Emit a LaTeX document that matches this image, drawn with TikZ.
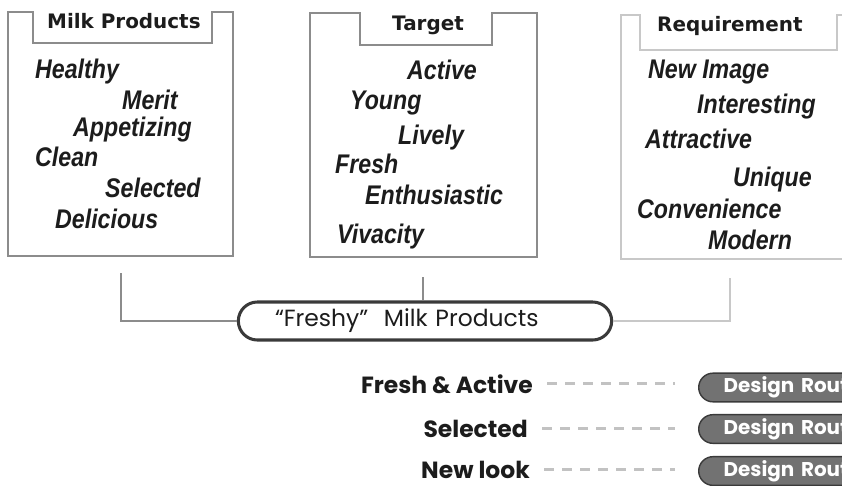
\documentclass[tikz,border=0pt]{standalone}
\usepackage{fontspec}
\setmainfont{Liberation Sans}
\newfontfamily\headfont{DejaVu Sans}
\newfontfamily\geofont{Poppins}
\newfontfamily\wordfont[FakeStretch=0.86]{Liberation Sans}
\usepackage{tikz}
\usetikzlibrary{positioning}
\definecolor{ink}{HTML}{1C1C1C}
\definecolor{frame}{HTML}{8C8C8C}
\definecolor{faint}{HTML}{C8C8C8}
\definecolor{lead}{HTML}{C2C2C2}
\definecolor{pillfill}{HTML}{727272}
\definecolor{pilledge}{HTML}{3A3A3A}

\begin{document}
\begin{tikzpicture}[
  x=0.3mm,y=-0.3mm,
  every node/.style={inner sep=0pt,text=ink},
  frameline/.style={line width=2pt,color=frame},
  fadeline/.style={line width=1.6pt,color=faint},
  head/.style={font=\headfont\bfseries\fontsize{17}{20}\selectfont,anchor=base west},
  word/.style={font=\wordfont\bfseries\itshape\fontsize{23}{26}\selectfont,anchor=base west},
  theme/.style={font=\geofont\bfseries\fontsize{20}{24}\selectfont,anchor=base east},
  brand/.style={draw=pilledge,line width=2.6pt,rounded corners=5.7mm,minimum height=11.4mm,
    text width=90mm,inner xsep=11mm,align=left,font=\geofont\fontsize{20}{22}\selectfont},
  route/.style={draw=pilledge,fill=pillfill,line width=1.2pt,rounded corners=4.3mm,minimum height=8.6mm,
    text width=45mm,inner xsep=7.5mm,align=left,anchor=west,text=white,
    font=\geofont\bfseries\fontsize{17}{20}\selectfont},
  leader/.style={line width=2.4pt,color=lead,dash pattern=on 3mm off 2.4mm,shorten <=4.2mm,shorten >=7mm}
]
\useasboundingbox (0,0) rectangle (842,486);

\draw[frameline] (8,12) -- (33,12) -- (33,43) -- (212,43) -- (212,12) -- (233,12) -- (233,256) -- (8,256) -- cycle;
\draw[frameline] (310,13) -- (360,13) -- (360,45) -- (492,45) -- (492,13) -- (537,13) -- (537,257) -- (310,257) -- cycle;
\draw[fadeline] (900,15) -- (837,15) -- (837,50) -- (640,50) -- (640,15) -- (621,15) -- (621,259) -- (900,259);

\node[head] (milk) at (47,28) {Milk Products};
\node[word] (healthy) at (35,78) {Healthy};
\node[word] (merit) at (122,109) {Merit};
\node[word] (appetizing) at (73,136) {Appetizing};
\node[word] (clean) at (35,166) {Clean};
\node[word] (selected) at (105,197) {Selected};
\node[word] (delicious) at (55,228) {Delicious};

\node[head] (target) at (392,30) {Target};
\node[word] (active) at (407,79) {Active};
\node[word] (young) at (350,109) {Young};
\node[word] (lively) at (398,144) {Lively};
\node[word] (fresh) at (335,173) {Fresh};
\node[word] (enthusiastic) at (365,204) {Enthusiastic};
\node[word] (vivacity) at (337,243) {Vivacity};

\node[head] (requirement) at (657,31) {Requirement};
\node[word] (newimage) at (648,78) {New Image};
\node[word] (interesting) at (697,113) {Interesting};
\node[word] (attractive) at (645,148) {Attractive};
\node[word] (unique) at (733,186) {Unique};
\node[word] (convenience) at (637,218) {Convenience};
\node[word] (modern) at (708,249) {Modern};

\node[brand] (freshy) at (425,321) {“Freshy”\ \ Milk Products};
\coordinate (drop1) at (121,273);
\coordinate (drop2) at (423,277);
\coordinate (drop3) at (730,278);
\draw[frameline] (drop1) |- (freshy.west);
\draw[frameline] (drop2) -- (drop2 |- freshy.north);
\draw[fadeline] (drop3) |- (freshy.east);

\node[theme] (freshactive) at (533,393) {Fresh \& Active};
\node[theme] (selectedtheme) at (528,437) {Selected};
\node[theme] (newlook) at (530,478) {New look};
\node[route] (route1) at (698,387.5) {Design Route};
\node[route] (route2) at (698,429) {Design Route};
\node[route] (route3) at (698,471) {Design Route};
\draw[leader] (freshactive.east) -- (freshactive.east -| route1.west);
\draw[leader] (selectedtheme.east) -- (selectedtheme.east -| route2.west);
\draw[leader] (newlook.east) -- (newlook.east -| route3.west);
\end{tikzpicture}
\end{document}
